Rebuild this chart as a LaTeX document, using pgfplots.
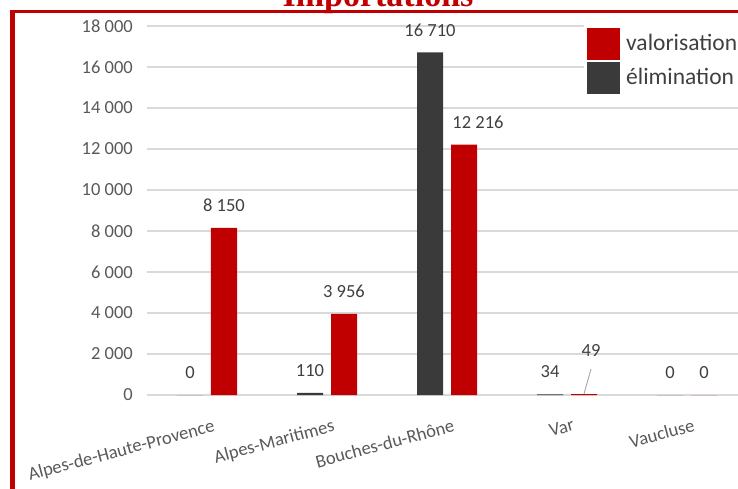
\documentclass[border=0pt]{standalone}
\usepackage{fontspec}
\setmainfont{Carlito}
\newfontfamily\titlefont{Liberation Serif}
\usepackage{pgfplots}
\usepackage{pgfplotstable}
\pgfplotsset{compat=1.18}
\usetikzlibrary{calc}

\definecolor{valred}{HTML}{C00000}
\definecolor{elimgray}{HTML}{3A3A3A}
\definecolor{gridgray}{HTML}{D9D9D9}
\definecolor{ticktext}{HTML}{595959}
\definecolor{labtext}{HTML}{404040}
\definecolor{leadgray}{HTML}{A6A6A6}

% dx, dy: extra shift of the data label (pt)
\pgfplotstableread{
x y dx dy
0 0 0 0
1 110 0 0
2 16710 0 0
3 34 0 0
4 0 0 0
}\elimination
\pgfplotstableread{
x y dx dy
0 8150 0 0
1 3956 0 0
2 12216 14 0
3 49 7 21
4 0 0 0
}\valorisation

% #1 = bar shift of the series
\pgfplotsset{
  barlabels/.style={
    nodes near coords,
    visualization depends on={\thisrow{dy} \as \labdy},
    visualization depends on={\thisrow{dx} \as \labdx},
    every node near coord/.append style={font=\fontsize{18.5}{22}\selectfont,
      text=labtext, inner sep=0pt, anchor=south,
      yshift={16pt+\labdy pt}, xshift={#1+\labdx pt}},
  },
}

\begin{document}
\begin{tikzpicture}[x=1pt,y=1pt]
\begin{axis}[
  scale only axis, width=600pt, height=369pt,
  xmin=-0.5, xmax=4.5, ymin=0, ymax=18000,
  xtick={0,...,4},
  xticklabels={Alpes-de-Haute-Provence,Alpes-Maritimes,Bouches-du-Rhône,Var,Vaucluse},
  ytick distance=2000,
  scaled y ticks=false,
  axis x line=bottom, axis y line=left,
  axis line style={draw=none},
  major tick length=0pt,
  ymajorgrids, grid style={gridgray, line width=1.2pt},
  xticklabel style={rotate=15, anchor=north east, inner sep=0pt,
    font=\fontsize{18.5}{22}\selectfont, text=ticktext, yshift=-24pt, xshift=-1pt},
  yticklabel style={anchor=east, inner sep=0pt, xshift=-14pt,
    font=\fontsize{18.5}{22}\selectfont, text=ticktext},
  /pgf/number format/1000 sep={\ },
  /pgf/number format/assume math mode=true,
  legend style={at={(0.7275,1.018)}, anchor=north west, draw=none, fill=white,
    inner xsep=3pt, inner ysep=8pt, row sep=2pt,
    nodes={inner sep=1.5pt},
    /tikz/every odd column/.append style={column sep=5pt},
    font=\fontsize{23.5}{28}\selectfont, text=labtext},
  legend cell align=left,
  reverse legend,
  legend image code/.code={\fill[#1] (0pt,-16pt) rectangle (33pt,16pt);},
]
\coordinate (o) at (rel axis cs:0,0);
\addplot[ybar, bar width=26pt, bar shift=-17pt, fill=elimgray, draw=none, barlabels=-17pt]
  table[x=x, y=y] {\elimination};
\addlegendentry{élimination}
\addplot[ybar, bar width=26pt, bar shift=17pt, fill=valred, draw=none, barlabels=17pt]
  table[x=x, y=y] {\valorisation};
\addlegendentry{valorisation}
% leader line of the "49" label
\addplot[sharp plot, no marks, forget plot, leadgray, line width=0.9pt]
  coordinates {(3.142,60) (3.2,1270)};
\end{axis}
\begin{scope}[shift={($(o)+(-147,-93)$)}]
\node[anchor=base, inner sep=0pt, text=valred,
  font=\titlefont\bfseries\fontsize{34}{40}\selectfont] at (378,481) {Importations};
\draw[valred, line width=4.5pt] (12.5,-10) -- (12.5,478.2);
\draw[valred, line width=3pt] (10.25,476.7) -- (800,476.7);
\pgfresetboundingbox
\useasboundingbox (0,0) rectangle (738,488);
\end{scope}
\end{tikzpicture}
\end{document}
